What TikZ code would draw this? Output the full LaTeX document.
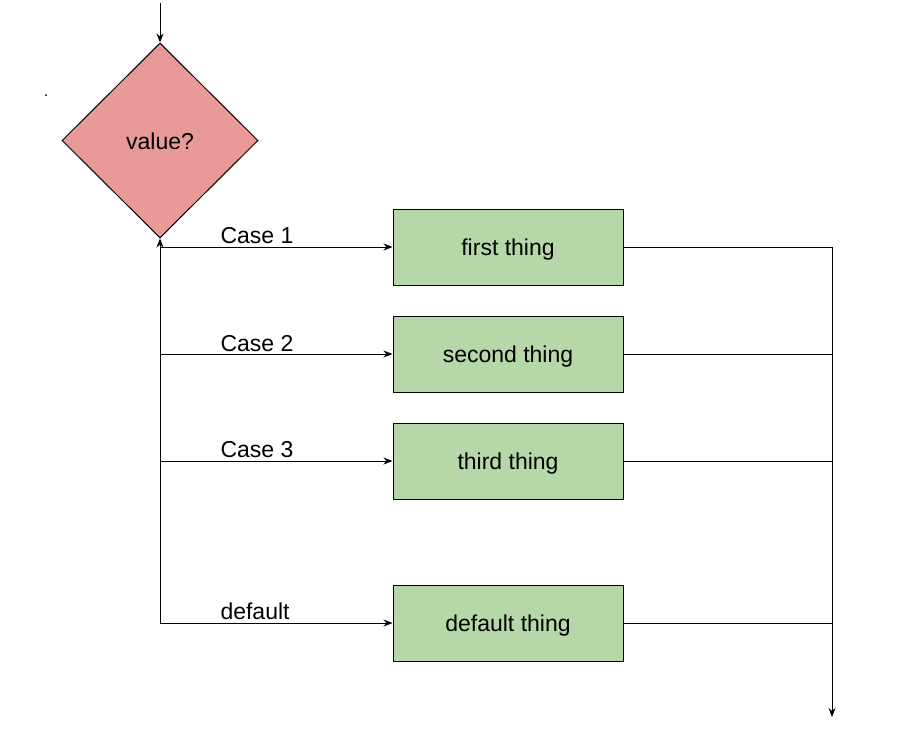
\documentclass[tikz,border=0pt]{standalone}
\usepackage{fontspec}
\setmainfont{Liberation Sans}
\usetikzlibrary{shapes.geometric,arrows.meta}
\definecolor{decpink}{HTML}{EA9999}
\definecolor{boxgreen}{HTML}{B6D7A8}
\tikzstyle{bigtext} = [font=\fontsize{23}{26}\selectfont, text height=22pt, text depth=4.6pt]
\tikzstyle{decision} = [diamond, draw, fill=decpink, inner sep=0pt, minimum width=196pt, minimum height=195pt, bigtext]
\tikzstyle{thing} = [rectangle, draw, fill=boxgreen, minimum width=230pt, minimum height=76pt, bigtext]
\tikzstyle{caselabel} = [inner sep=0pt, anchor=base west, font=\fontsize{23}{26}\selectfont]

\begin{document}
\begin{tikzpicture}[x=1pt,y=-1pt,line width=1pt,>={Stealth[length=9pt,width=7pt]}]
		\useasboundingbox (0,0) rectangle (904,737);
		% switch
		\node[decision] (value) at (160,140.5) {value?};
		\coordinate (entry) at (160,3);
		\fill (46,95) circle (1pt);
		% the cases
		\node[thing] (first)  at (508,247) {first thing};
		\node[thing] (second) at (508,354) {second thing};
		\node[thing] (third)  at (508,461) {third thing};
		\node[thing] (deflt)  at (508,623) {default thing};
		\coordinate (c1) at (160,247);
		\coordinate (c2) at (160,354);
		\coordinate (c3) at (160,461);
		\coordinate (c4) at (160,623);
		\coordinate (r1) at (832,247);
		\coordinate (r2) at (832,354);
		\coordinate (r3) at (832,461);
		\coordinate (r4) at (832,623);
		\coordinate (exit) at (832,717);
		\node[caselabel] (lab1) at (220,243) {Case 1};
		\node[caselabel] (lab2) at (220,351) {Case 2};
		\node[caselabel] (lab3) at (220,457) {Case 3};
		\node[caselabel] (lab4) at (220,619) {default};
		\draw[->] (entry) -- (value.north);
		\draw[->] (c4) -- (value.south);
		\draw[->] (c1) -- (first.west);
		\draw[->] (c2) -- (second.west);
		\draw[->] (c3) -- (third.west);
		\draw[->] (c4) -- (deflt.west);
		\draw (first.east) -- (r1);
		\draw (second.east) -- (r2);
		\draw (third.east) -- (r3);
		\draw (deflt.east) -- (r4);
		\draw[->] (r1) -- (exit);
	\end{tikzpicture}
\end{document}
